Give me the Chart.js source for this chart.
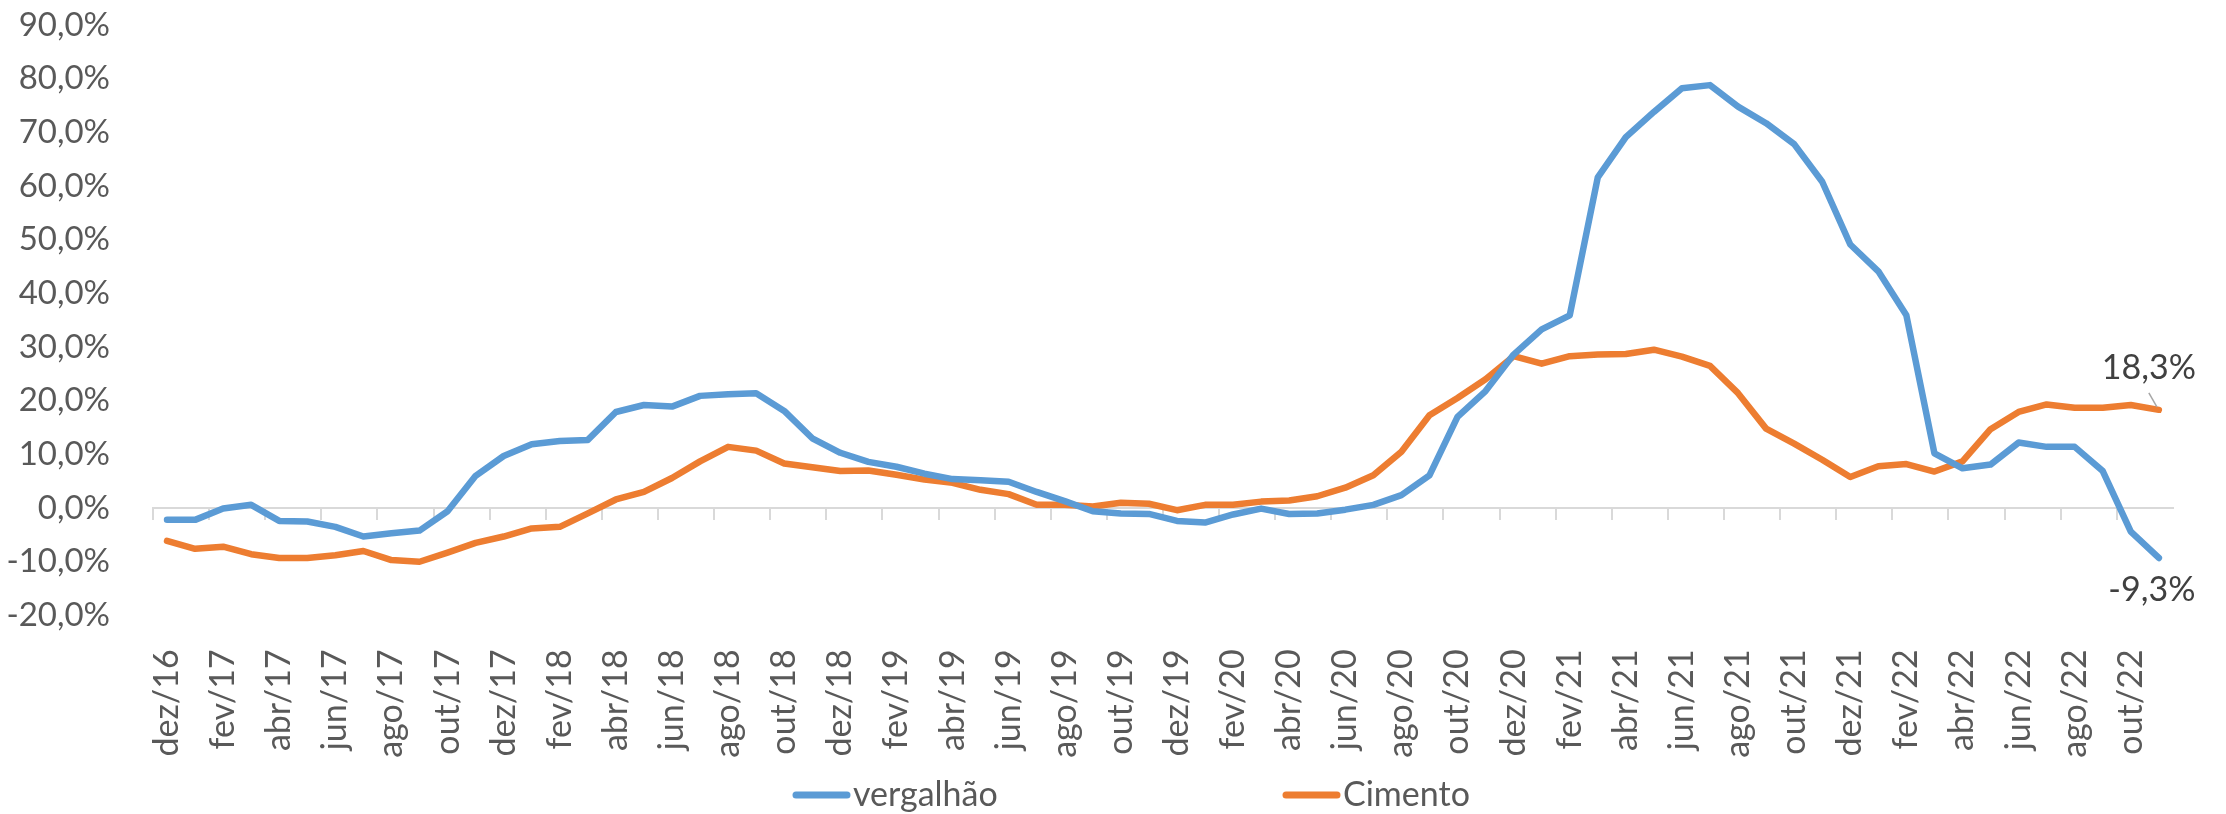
<!DOCTYPE html>
<html>
<head>
<meta charset="utf-8">
<script src="https://cdn.jsdelivr.net/npm/chart.js@4.4.1/dist/chart.umd.min.js"></script>
<style>
  html, body { margin: 0; padding: 0; background: #ffffff; }
  #wrap { width: 2226px; height: 814px; }
</style>
</head>
<body>
<div id="wrap"><canvas id="c" width="2226" height="814"></canvas></div>
<script>
const months = [
  'dez/16','jan/17','fev/17','mar/17','abr/17','mai/17','jun/17','jul/17','ago/17','set/17','out/17','nov/17',
  'dez/17','jan/18','fev/18','mar/18','abr/18','mai/18','jun/18','jul/18','ago/18','set/18','out/18','nov/18',
  'dez/18','jan/19','fev/19','mar/19','abr/19','mai/19','jun/19','jul/19','ago/19','set/19','out/19','nov/19',
  'dez/19','jan/20','fev/20','mar/20','abr/20','mai/20','jun/20','jul/20','ago/20','set/20','out/20','nov/20',
  'dez/20','jan/21','fev/21','mar/21','abr/21','mai/21','jun/21','jul/21','ago/21','set/21','out/21','nov/21',
  'dez/21','jan/22','fev/22','mar/22','abr/22','mai/22','jun/22','jul/22','ago/22','set/22','out/22','nov/22'
];

const vergalhao = [
  -2.2,-2.2,-0.1,0.6,-2.4,-2.5,-3.5,-5.3,-4.7,-4.2,-0.6,6.0,
  9.7,11.9,12.5,12.7,17.9,19.2,18.9,20.9,21.2,21.4,18.1,13.0,
  10.3,8.6,7.7,6.4,5.4,5.2,4.9,3.0,1.3,-0.6,-1.0,-1.1,
  -2.4,-2.7,-1.2,-0.1,-1.1,-1.0,-0.3,0.6,2.4,6.1,17.0,21.8,
  28.6,33.3,35.9,61.6,69.1,73.8,78.2,78.8,74.8,71.7,67.8,60.8,
  49.1,44.1,35.9,10.2,7.4,8.1,12.2,11.4,11.4,6.9,-4.4,-9.3
];

const cimento = [
  -6.1,-7.6,-7.2,-8.6,-9.3,-9.3,-8.8,-8.0,-9.7,-10.0,-8.3,-6.5,
  -5.3,-3.8,-3.5,-1.0,1.6,3.0,5.6,8.7,11.4,10.7,8.3,7.6,
  6.9,7.0,6.2,5.3,4.7,3.4,2.6,0.6,0.6,0.3,1.0,0.8,
  -0.4,0.6,0.6,1.2,1.4,2.2,3.8,6.1,10.5,17.3,20.5,24.0,
  28.3,26.9,28.3,28.6,28.7,29.5,28.2,26.5,21.4,14.8,12.0,9.0,
  5.8,7.8,8.2,6.8,8.7,14.7,17.9,19.3,18.7,18.7,19.2,18.3
];

const seriesNames = ['vergalhão', 'Cimento'];
const yTicks = { min: -20, max: 90, step: 10 };

const FONT = "Lato, 'Open Sans', sans-serif";
const AXIS_COLOR = '#595959';
const fmtPct = v => v.toFixed(1).replace('.', ',') + '%';

const legendPlugin = {
  id: 'customLegend',
  afterDraw(chart) {
    const ctx = chart.ctx;
    const starts = [793, 1283];
    const y = 795;
    ctx.save();
    ctx.font = '34px ' + FONT;
    ctx.textBaseline = 'middle';
    ctx.textAlign = 'left';
    chart.data.datasets.forEach((ds, i) => {
      const x = starts[i];
      ctx.strokeStyle = ds.borderColor;
      ctx.lineWidth = 7;
      ctx.lineCap = 'round';
      ctx.beginPath();
      ctx.moveTo(x + 3, y);
      ctx.lineTo(x + 54, y);
      ctx.stroke();
      ctx.fillStyle = AXIS_COLOR;
      ctx.fillText(ds.label, x + 60, y);
    });
    ctx.restore();
  }
};

const lastLabelPlugin = {
  id: 'lastLabels',
  afterDatasetsDraw(chart) {
    const ctx = chart.ctx;
    const xs = chart.scales.x, ys = chart.scales.y;
    ctx.save();
    ctx.font = '34px ' + FONT;
    ctx.fillStyle = '#404040';
    ctx.textAlign = 'center';
    ctx.textBaseline = 'middle';
    chart.data.datasets.forEach((ds, i) => {
      const n = ds.data.length - 1;
      const v = ds.data[n];
      const px = xs.getPixelForValue(n);
      const py = ys.getPixelForValue(v);
      if (i === 1) {
        ctx.strokeStyle = '#A6A6A6';
        ctx.lineWidth = 1.5;
        ctx.beginPath();
        ctx.moveTo(px - 10, py - 17);
        ctx.lineTo(px - 2, py - 3);
        ctx.stroke();
        ctx.fillText(fmtPct(v), px - 10, py - 42);
      } else {
        ctx.fillText(fmtPct(v), px - 7, py + 32);
      }
    });
    ctx.restore();
  }
};

new Chart(document.getElementById('c'), {
  type: 'line',
  data: {
    labels: months,
    datasets: [
      { label: seriesNames[0], data: vergalhao, borderColor: '#5B9BD5', backgroundColor: '#5B9BD5',
        borderWidth: 6.5, pointRadius: 0, tension: 0, borderJoinStyle: 'round', borderCapStyle: 'round', xAxisID: 'x' },
      { label: seriesNames[1], data: cimento, borderColor: '#ED7D31', backgroundColor: '#ED7D31',
        borderWidth: 6.5, pointRadius: 0, tension: 0, borderJoinStyle: 'round', borderCapStyle: 'round', xAxisID: 'x' }
    ]
  },
  options: {
    responsive: false,
    animation: false,
    devicePixelRatio: 1,
    layout: { padding: { left: 0, right: 49, top: 25, bottom: 0 } },
    plugins: { legend: { display: false }, tooltip: { enabled: false } },
    scales: {
      y: {
        min: yTicks.min, max: yTicks.max,
        grid: { display: false },
        border: { display: false },
        ticks: { stepSize: yTicks.step, color: AXIS_COLOR, font: { family: FONT, size: 33 }, padding: 35,
                 callback: v => fmtPct(v) },
        afterFit: s => { s.width = 153; s.paddingTop = 18; s.paddingBottom = 18; }
      },
      x: {
        type: 'category',
        offset: true,
        grid: { display: false },
        border: { display: false },
        ticks: { autoSkip: false, minRotation: 90, maxRotation: 90, color: AXIS_COLOR,
                 font: { family: FONT, size: 34 }, padding: 26,
                 callback: (val, idx) => (idx % 2 === 0 ? months[idx] : '') },
        afterFit: s => { s.height = 198.6; }
      },
      x2: {
        type: 'category',
        position: { y: 0 },
        offset: true,
        grid: { offset: true, drawOnChartArea: false, drawTicks: true, tickLength: 11, lineWidth: 2,
                color: c => (c.index % 2 === 0 ? '#D9D9D9' : 'rgba(0,0,0,0)') },
        border: { display: true, color: '#D9D9D9', width: 2 },
        ticks: { display: false }
      }
    }
  },
  plugins: [legendPlugin, lastLabelPlugin]
});
</script>
</body>
</html>
